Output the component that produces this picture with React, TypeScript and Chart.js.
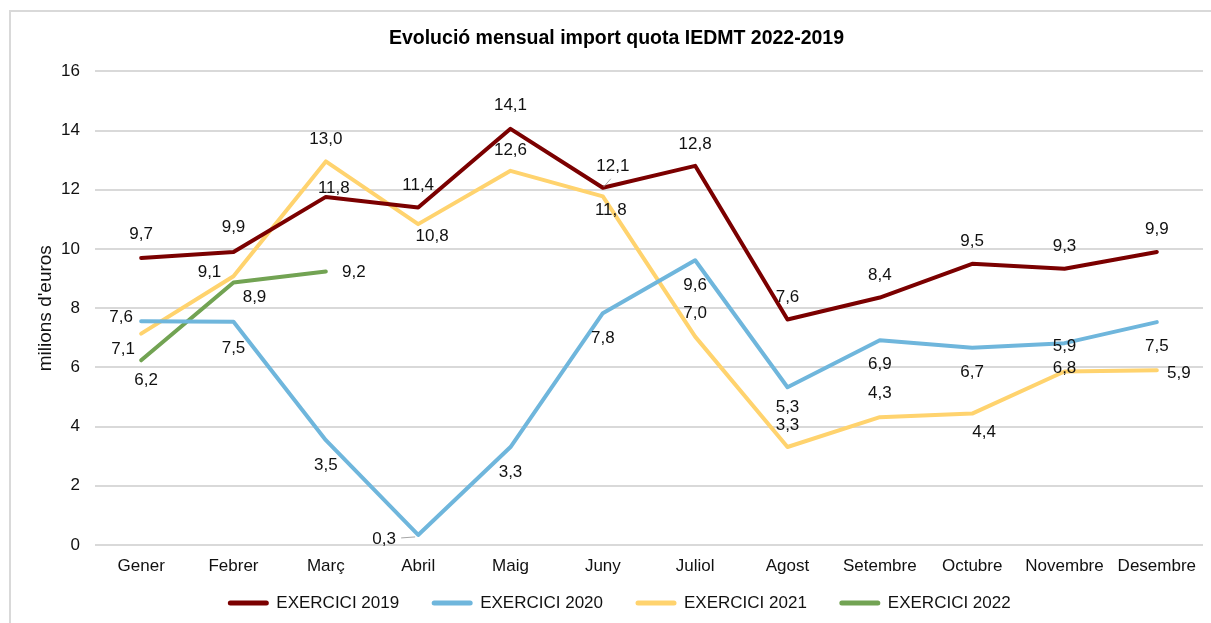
import React, { useEffect, useRef } from 'react';
import { Chart, registerables } from 'chart.js';

Chart.register(...registerables);

// ---------- DATA ----------
const months = ['Gener', 'Febrer', 'Març', 'Abril', 'Maig', 'Juny', 'Juliol', 'Agost', 'Setembre', 'Octubre', 'Novembre', 'Desembre'];
const seriesNames = ['EXERCICI 2019', 'EXERCICI 2020', 'EXERCICI 2021', 'EXERCICI 2022'];
const values2019 = [9.7, 9.9, 11.76, 11.4, 14.06, 12.07, 12.81, 7.62, 8.36, 9.5, 9.33, 9.9];
const values2020 = [7.56, 7.54, 3.54, 0.34, 3.31, 7.83, 9.62, 5.33, 6.92, 6.66, 6.82, 7.53];
const values2021 = [7.14, 9.08, 12.96, 10.84, 12.64, 11.78, 7.04, 3.31, 4.32, 4.44, 5.86, 5.9];
const values2022 = [6.24, 8.87, 9.24, null, null, null, null, null, null, null, null, null];
const yMin = 0;
const yMax = 16;
const yStep = 2;

// ---------- STYLE ----------
const seriesColors = ['#7B0000', '#6FB6DC', '#FFD36E', '#72A353'];
const FONT = '"Liberation Sans", Arial, sans-serif';

// label placement (pixel offsets of the data label from its point)
const labelOffsets: [number, number][][] = [
  [[0, -24], [0, -25], [8, -9], [0, -22], [0, -24], [10, -21], [0, -22], [0, -22], [0, -22], [0, -22], [0, -23], [0, -23]],
  [[-20, -4], [0, 26], [0, 25], [-34, 4], [0, 25], [0, 25], [0, 25], [0, 20], [0, 24], [0, 24], [0, 25], [0, 24]],
  [[-18, 16], [-24, -4], [0, -22], [14, 12], [0, -21], [8, 14], [0, -23], [0, -22], [0, -24], [12, 19], [0, -25], [22, 3]],
  [[5, 20], [21, 15], [28, 1]],
];
// leader lines: [series, index, x1, y1, x2, y2] relative to the point
const leaders: [number, number, number, number, number, number][] = [
  [0, 5, 1, -1, 8, -9],
  [1, 3, -3, 2, -17, 3],
];

const borderPlugin = {
  id: 'outerBorder',
  beforeDraw(chart: any) {
    const { ctx } = chart;
    ctx.save();
    ctx.fillStyle = '#ffffff';
    ctx.fillRect(0, 0, chart.width, chart.height);
    ctx.strokeStyle = '#d9d9d9';
    ctx.lineWidth = 2;
    ctx.strokeRect(10, 11, chart.width + 20, chart.height + 20);
    ctx.restore();
  },
};

const dataLabelPlugin = {
  id: 'dataLabels',
  afterDatasetsDraw(chart: any) {
    const { ctx } = chart;
    ctx.save();
    ctx.strokeStyle = '#a6a6a6';
    ctx.lineWidth = 1;
    leaders.forEach(([si, idx, x1, y1, x2, y2]) => {
      const pt = chart.getDatasetMeta(si).data[idx];
      if (!pt) return;
      ctx.beginPath();
      ctx.moveTo(pt.x + x1, pt.y + y1);
      ctx.lineTo(pt.x + x2, pt.y + y2);
      ctx.stroke();
    });
    ctx.font = `17px ${FONT}`;
    ctx.fillStyle = '#111111';
    ctx.textAlign = 'center';
    ctx.textBaseline = 'middle';
    chart.data.datasets.forEach((ds: any, i: number) => {
      const meta = chart.getDatasetMeta(i);
      meta.data.forEach((pt: any, j: number) => {
        const v = ds.data[j];
        if (v == null) return;
        const off = (labelOffsets[i] && labelOffsets[i][j]) || [0, -22];
        ctx.fillText(v.toFixed(1).replace('.', ','), pt.x + off[0], pt.y + off[1]);
      });
    });
    ctx.restore();
  },
};

const legendPlugin = {
  id: 'customLegend',
  afterDraw(chart: any) {
    const { ctx } = chart;
    ctx.save();
    ctx.font = `17px ${FONT}`;
    const lineLen = 42;
    const gap = 7;
    const spacing = 32;
    const items = chart.data.datasets.map((ds: any) => ({
      text: ds.label,
      color: ds.borderColor,
      w: lineLen + gap + ctx.measureText(ds.label).width,
    }));
    const total = items.reduce((s: number, it: any) => s + it.w, 0) + spacing * (items.length - 1);
    let x = 619 - total / 2;
    const y = 603;
    items.forEach((it: any) => {
      ctx.strokeStyle = it.color;
      ctx.lineWidth = 5;
      ctx.lineCap = 'round';
      ctx.beginPath();
      ctx.moveTo(x + 3, y);
      ctx.lineTo(x + lineLen - 3, y);
      ctx.stroke();
      ctx.fillStyle = '#111111';
      ctx.textAlign = 'left';
      ctx.textBaseline = 'middle';
      ctx.fillText(it.text, x + lineLen + gap, y);
      x += it.w + spacing;
    });
    ctx.restore();
  },
};

export default function App() {
  const canvasRef = useRef<HTMLCanvasElement | null>(null);

  useEffect(() => {
    document.body.style.margin = '0';
    const canvas = canvasRef.current;
    if (!canvas) return;
    const allSeries = [values2019, values2020, values2021, values2022];
    const chart = new Chart(canvas, {
      type: 'line',
      data: {
        labels: months,
        datasets: allSeries.map((vals, i) => ({
          label: seriesNames[i],
          data: vals,
          borderColor: seriesColors[i],
          backgroundColor: seriesColors[i],
          borderWidth: 4,
          pointRadius: 0,
          pointHoverRadius: 0,
          tension: 0,
          fill: false,
          borderJoinStyle: 'round' as const,
          borderCapStyle: 'round' as const,
          spanGaps: false,
        })),
      },
      options: {
        responsive: false,
        animation: false,
        events: [],
        layout: { padding: { left: 30, right: 8, top: 0, bottom: 38 } },
        plugins: {
          legend: { display: false },
          tooltip: { enabled: false },
          title: {
            display: true,
            text: 'Evolució mensual import quota IEDMT 2022-2019',
            color: '#000000',
            font: { family: FONT, size: 19.5, weight: 'bold' },
            padding: { top: 27, bottom: 21 },
          },
        },
        scales: {
          x: {
            type: 'category',
            offset: true,
            grid: { display: false, drawTicks: false },
            border: { display: false },
            ticks: {
              color: '#111111',
              font: { family: FONT, size: 17 },
              padding: 11,
              maxRotation: 0,
              autoSkip: false,
            },
            afterFit(scale: any) {
              scale.height = 40;
            },
          },
          y: {
            min: yMin,
            max: yMax,
            grid: { color: '#d9d9d9', lineWidth: 2, drawTicks: false },
            border: { display: false },
            ticks: {
              stepSize: yStep,
              color: '#111111',
              font: { family: FONT, size: 17 },
              padding: 15,
            },
            title: {
              display: true,
              text: "milions d'euros",
              color: '#111111',
              font: { family: FONT, size: 19 },
              padding: { top: 4, bottom: 0 },
            },
            afterFit(scale: any) {
              scale.width = 65;
            },
          },
        },
      },
      plugins: [borderPlugin, dataLabelPlugin, legendPlugin],
    });
    return () => chart.destroy();
  }, []);

  return (
    <div style={{ width: 1211, height: 623 }}>
      <canvas ref={canvasRef} width={1211} height={623} style={{ display: 'block' }} />
    </div>
  );
}
